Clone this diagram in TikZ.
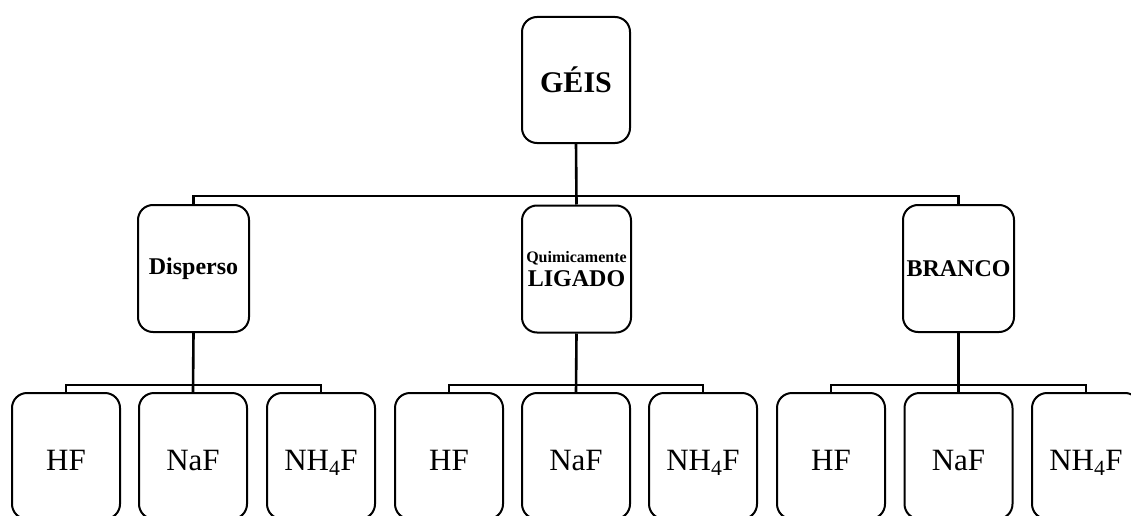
\documentclass[tikz,border=0pt]{standalone}
\usepackage{fontspec}
\setmainfont{Liberation Serif}
\begin{document}
\begin{tikzpicture}[x=1pt,y=-1pt,
  box/.style={draw,line width=2pt,rounded corners=15pt,inner sep=0pt,align=center,minimum width=108pt,minimum height=126pt},
  leaf/.style={box,font=\fontsize{31}{34}\selectfont,text height=28pt,text depth=0pt},
  conn/.style={line width=2.6pt}]
\useasboundingbox (0,0) rectangle (1131,516);
\node[box,font=\fontsize{30}{32}\selectfont\bfseries] (geis) at (576,80) {GÉIS};
\node[box,minimum width=111pt,minimum height=127pt,font=\fontsize{24}{26}\selectfont\bfseries] (disp) at (193.5,268.5) {Disperso};
\node[box,minimum width=109pt,minimum height=127pt] (quim) at (576.5,269) {{\fontsize{16}{18}\selectfont\bfseries Quimicamente}\\[5pt]{\fontsize{24}{26}\selectfont\bfseries LIGADO}};
\node[box,minimum width=111pt,minimum height=127pt,font=\fontsize{24}{26}\selectfont\bfseries] (branco) at (958.5,268.5) {BRANCO};
% leaves
\node[leaf] (hfa) at (66,456) {HF};
\node[leaf] (nafa) at (193,456) {NaF};
\node[leaf] (nha) at (321,456) {NH\textsubscript{4}F};
\node[leaf] (hfb) at (449,456) {HF};
\node[leaf] (nafb) at (576,456) {NaF};
\node[leaf] (nhb) at (703,456) {NH\textsubscript{4}F};
\node[leaf] (hfc) at (831,456) {HF};
\node[leaf] (nafc) at (958.5,456) {NaF};
\node[leaf] (nhc) at (1086,456) {NH\textsubscript{4}F};
% connectors
\coordinate (j0) at (576,196);
\draw[conn] (geis.south) -- (quim.north);
\draw[conn] (disp.north) |- (j0) -| (branco.north);
\coordinate (ja) at (193,385);
\coordinate (jb) at (576,385);
\coordinate (jc) at (958.5,385);
\draw[conn] (disp.south) -- (nafa.north);
\draw[conn] (hfa.north) |- (ja) -| (nha.north);
\draw[conn] (quim.south) -- (nafb.north);
\draw[conn] (hfb.north) |- (jb) -| (nhb.north);
\draw[conn] (branco.south) -- (nafc.north);
\draw[conn] (hfc.north) |- (jc) -| (nhc.north);
\end{tikzpicture}
\end{document}
